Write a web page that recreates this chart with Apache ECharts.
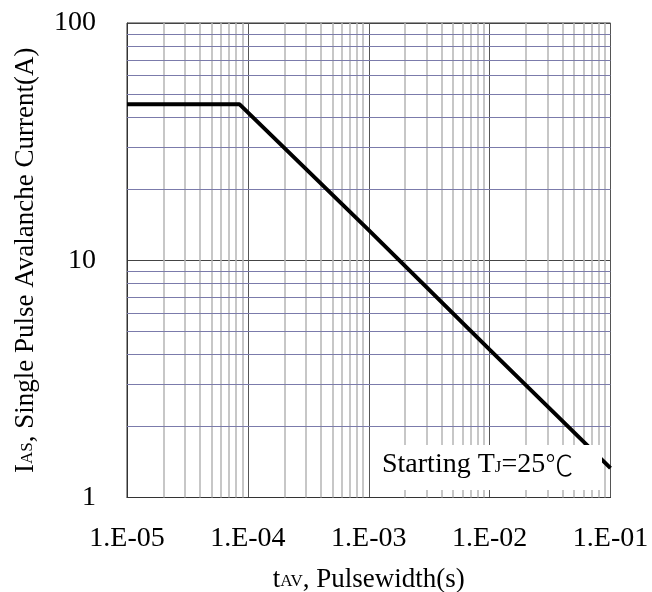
<!DOCTYPE html>
<html>
<head>
<meta charset="utf-8">
<script src="https://cdn.jsdelivr.net/npm/echarts@6/dist/echarts.min.js"></script>
<style>
html,body{margin:0;padding:0;background:#fff;}
#chart{width:652px;height:592px;}
</style>
</head>
<body>
<div id="chart"></div>
<script>
// ---- data ----
var xTickLabels = ['1.E-05', '1.E-04', '1.E-03', '1.E-02', '1.E-01'];
var yTickLabels = ['1', '10', '100'];
var pulseWidth = [1e-5, 8.5e-5, 1e-3, 1e-2, 0.1];      // s
var avalancheCurrent = [45.5, 45.5, 13.4, 4.2, 1.33];  // A
var xDecades = [1e-5, 1e-4, 1e-3, 1e-2];
var yDecades = [1, 10];
var minorMultipliers = [2, 3, 4, 5, 6, 7, 8, 9];

var minorX = [];
xDecades.forEach(function (d) { minorMultipliers.forEach(function (m) { minorX.push(d * m); }); });
var minorY = [];
yDecades.forEach(function (d) { minorMultipliers.forEach(function (m) { minorY.push(d * m); }); });

var lineData = pulseWidth.map(function (t, i) { return [t, avalancheCurrent[i]]; });

var serif = '"Liberation Serif", "DejaVu Serif", serif';
var chart = echarts.init(document.getElementById('chart'));

var vLines = minorX.map(function (v) { return { coords: [[v, 1], [v, 100]] }; });
var hLines = minorY.map(function (v) { return { coords: [[1e-5, v], [0.1, v]] }; });

var richBase = {
  n: { fontFamily: serif, fontSize: 27, color: '#000', lineHeight: 32, verticalAlign: 'bottom' },
  s: { fontFamily: serif, fontSize: 17, color: '#000', lineHeight: 32, verticalAlign: 'bottom', padding: [0, 0, 3, 0] }
};

chart.setOption({
  animation: false,
  backgroundColor: '#ffffff',
  grid: {
    left: 127, right: 41.5, top: 23, bottom: 94.5,
    outerBoundsMode: 'none', containLabel: false,
    show: true, borderColor: '#333', borderWidth: 1
  },
  xAxis: {
    type: 'log', logBase: 10, min: 1e-5, max: 0.1,
    name: '{n|t}{s|AV}{n|, Pulsewidth(s)}',
    nameLocation: 'middle', nameGap: 64,
    nameTextStyle: { rich: richBase },
    axisLine: { show: true, lineStyle: { color: '#333', width: 1 } },
    axisTick: { show: false },
    axisLabel: {
      fontFamily: serif, fontSize: 28, color: '#000', margin: 27,
      formatter: function (v) {
        var i = Math.round(Math.log10(v)) + 5;
        return xTickLabels[i] || '';
      }
    },
    splitLine: { show: true, lineStyle: { color: '#555', width: 1 } },
    minorTick: { show: false },
    minorSplitLine: { show: false }
  },
  yAxis: {
    type: 'log', logBase: 10, min: 1, max: 100,
    name: '{n|I}{s|AS}{n|, Single Pulse Avalanche Current(A)}',
    nameLocation: 'middle', nameGap: 88, nameRotate: 90,
    nameTextStyle: { rich: richBase },
    axisLine: { show: true, lineStyle: { color: '#333', width: 1 } },
    axisTick: { show: false },
    axisLabel: {
      fontFamily: serif, fontSize: 28, color: '#000', margin: 31,
      formatter: function (v) {
        var i = Math.round(Math.log10(v));
        return yTickLabels[i] || '';
      }
    },
    splitLine: { show: true, lineStyle: { color: '#444', width: 1 } },
    minorTick: { show: false },
    minorSplitLine: { show: false }
  },
  series: [
    {
      type: 'lines', coordinateSystem: 'cartesian2d', silent: true, z: 1,
      polyline: false, symbol: 'none',
      lineStyle: { color: '#b4b4b4', width: 1.5, opacity: 1 },
      data: vLines
    },
    {
      type: 'lines', coordinateSystem: 'cartesian2d', silent: true, z: 1,
      polyline: false, symbol: 'none',
      lineStyle: { color: '#7b7bab', width: 1, opacity: 1 },
      data: hLines
    },
    {
      type: 'line', name: 'IAS', data: lineData, z: 5,
      symbol: 'none', showSymbol: false,
      lineStyle: { color: '#000', width: 4 },
      clip: true
    }
  ],
  graphic: [
    {
      type: 'rect', z: 100,
      shape: { x: 376, y: 445, width: 226, height: 45 },
      style: { fill: '#ffffff' }
    },
    {
      type: 'text', z: 101, left: 382, top: 451,
      style: {
        text: '{n|Starting T}{s|J}{n|=25}{c|℃}',
        rich: {
          n: { fontFamily: serif, fontSize: 28, fill: '#000', lineHeight: 32, verticalAlign: 'bottom' },
          s: { fontFamily: serif, fontSize: 17, fill: '#000', lineHeight: 32, verticalAlign: 'bottom', padding: [0, 0, 3, 0] },
          c: { fontFamily: '"Noto Sans CJK JP", "Noto Sans CJK SC", sans-serif', fontWeight: 300, fontSize: 28, fill: '#000', lineHeight: 32, verticalAlign: 'bottom' }
        }
      }
    }
  ]
});
</script>
</body>
</html>
